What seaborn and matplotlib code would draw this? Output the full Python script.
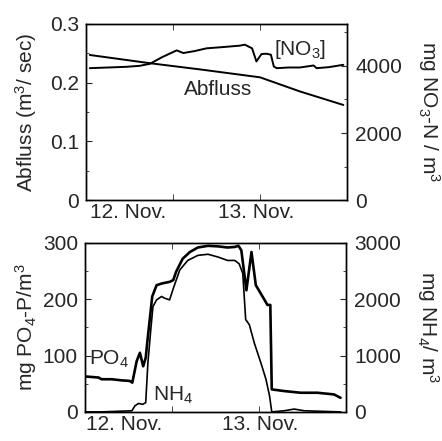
import numpy as np
import pandas as pd
import matplotlib
matplotlib.use("Agg")
import matplotlib.pyplot as plt
from matplotlib.ticker import FixedLocator, MultipleLocator
import seaborn as sns

# Zeit in Stunden ab Beginn der Messung
hours_q = [0.5, 8.8, 16.0, 24.0, 29.5, 35.5]
abfluss = [0.247, 0.233, 0.222, 0.209, 0.185, 0.162]

hours_no3 = [0.5, 3.0, 5.5, 7.4, 8.8, 10.5, 12.5, 13.4, 15.0, 16.6, 19.0, 21.2,
             21.9, 22.9, 23.5, 24.2, 24.9, 25.5, 25.9, 26.3, 28.0, 29.5, 31.4,
             31.8, 33.5, 35.5]
no3 = [3930, 3950, 3970, 4000, 4060, 4260, 4460, 4380, 4440, 4520, 4560, 4600,
       4630, 4520, 4130, 4350, 4360, 4330, 3980, 3930, 3950, 3950, 4010,
       3930, 3960, 4030]

hours_po4 = [0.0, 1.9, 2.3, 3.7, 5.1, 6.2, 6.55, 7.15, 7.6, 8.05, 8.4, 8.65,
             9.0, 9.3, 9.9, 10.6, 11.7, 12.2, 12.6, 13.5, 14.5, 15.6, 17.0,
             18.4, 19.7, 20.7, 21.2, 21.6, 22.3, 23.0, 23.6, 24.8, 25.2, 25.6,
             25.8, 27.5, 29.8, 32.1, 34.4, 35.3]
po4 = [63, 61, 58, 58, 56, 55, 52, 90, 105, 81, 96, 128,
       169, 205, 225, 228, 231, 234, 249, 272, 284, 292, 295,
       294, 292, 293, 295, 287, 216, 284, 225, 199, 190, 190,
       40, 37, 34, 34, 31, 25]

hours_nh4 = [0.0, 2.3, 6.5, 6.9, 7.4, 8.0, 8.4, 8.7, 9.1, 9.4, 9.9, 10.6,
             11.0, 11.7, 12.2, 13.1, 14.2, 15.6, 17.0, 18.4, 19.7, 20.7, 21.3,
             21.8, 22.2, 22.7, 23.4, 24.3, 25.0, 25.5, 25.8, 27.5, 28.9, 30.3,
             35.3]
nh4 = [0, 0, 20, 106, 150, 135, 165, 870, 1460, 1870, 1990, 2050,
       2020, 1990, 2190, 2520, 2690, 2780, 2800, 2750, 2690, 2690, 2630,
       2460, 1640, 1550, 1220, 870, 580, 280, 0, 20, 50, 20,
       0]

day_labels = ["12. Nov.", "13. Nov."]

sns.set_style("ticks")
plt.rcParams["font.family"] = ["Liberation Sans", "DejaVu Sans"]
plt.rcParams["font.size"] = 15
plt.rcParams["mathtext.fontset"] = "custom"
plt.rcParams["mathtext.rm"] = "Liberation Sans"
plt.rcParams["mathtext.it"] = "Liberation Sans"

fig = plt.figure(figsize=(4.42, 4.41), dpi=100)
ax1 = fig.add_axes([0.195, 0.546, 0.59, 0.400])
ax2 = fig.add_axes([0.192, 0.066, 0.59, 0.383])
ax1r = ax1.twinx()
ax2r = ax2.twinx()

lw = 1.4
sns.lineplot(x=hours_q, y=abfluss, ax=ax1, color="black", lw=lw,
             sort=False, estimator=None)
sns.lineplot(x=hours_no3, y=no3, ax=ax1r, color="black", lw=lw,
             sort=False, estimator=None)
sns.lineplot(x=hours_po4, y=po4, ax=ax2, color="black", lw=1.9,
             sort=False, estimator=None)
sns.lineplot(x=hours_nh4, y=nh4, ax=ax2r, color="black", lw=1.2,
             sort=False, estimator=None)

ax1.set_ylim(0, 0.3)
ax1r.set_ylim(0, 5250)
ax2.set_ylim(0, 300)
ax2r.set_ylim(0, 3000)

ax1.set_yticks([0, 0.1, 0.2, 0.3])
ax1.set_yticklabels(["0", "0.1", "0.2", "0.3"])
ax1.yaxis.set_minor_locator(MultipleLocator(0.05))
ax1r.set_yticks([0, 2000, 4000])
ax1r.yaxis.set_minor_locator(MultipleLocator(1000))
ax2.set_yticks([0, 100, 200, 300])
ax2.yaxis.set_minor_locator(MultipleLocator(50))
ax2r.set_yticks([0, 1000, 2000, 3000])
ax2r.yaxis.set_minor_locator(MultipleLocator(500))

label_pos = {ax1: [5.8, 23.4], ax2: [5.4, 24.2]}
for ax in (ax1, ax2):
    ax.set_xlim(0, 36)
    ax.set_xticks(label_pos[ax])
    ax.set_xticklabels(day_labels)
    ax.xaxis.set_minor_locator(FixedLocator([12, 24]))
    ax.tick_params(axis="x", which="major", length=0, pad=2)
    ax.tick_params(axis="x", which="minor", direction="in", length=4,
                   top=True, bottom=True)
    ax.tick_params(axis="y", which="both", direction="in", length=4,
                   pad=5)
    ax.tick_params(axis="y", which="minor", length=2.5)
for ax in (ax1r, ax2r):
    ax.tick_params(axis="y", which="both", direction="in", length=4, pad=6)
    ax.tick_params(axis="y", which="minor", length=2.5)

for ax in (ax1, ax2, ax1r, ax2r):
    for s in ax.spines.values():
        s.set_visible(True)
        s.set_color("black")
        s.set_linewidth(1.0)
    ax.set_xlabel("")

ax1.set_ylabel("Abfluss (m$^3$/ sec)", va="center")
ax1.yaxis.set_label_coords(-0.23, 0.5)
ax1r.set_ylabel("mg NO$_3$-N / m$^3$", rotation=270, va="center")
ax1r.yaxis.set_label_coords(1.315, 0.5)
ax2.set_ylabel("mg PO$_4$-P/m$^3$", va="center")
ax2.yaxis.set_label_coords(-0.225, 0.5)
ax2r.set_ylabel("mg NH$_4$/ m$^3$", rotation=270, va="center")
ax2r.yaxis.set_label_coords(1.315, 0.5)

ax1.text(29.5, 0.256, "[NO$_3$]", ha="center", va="center")
ax1.text(18.2, 0.188, "Abfluss", ha="center", va="center")
ax2.text(3.4, 94, "PO$_4$", ha="center", va="center")
ax2.text(12.2, 30, "NH$_4$", ha="center", va="center")

fig.savefig("out.png", dpi=100)
